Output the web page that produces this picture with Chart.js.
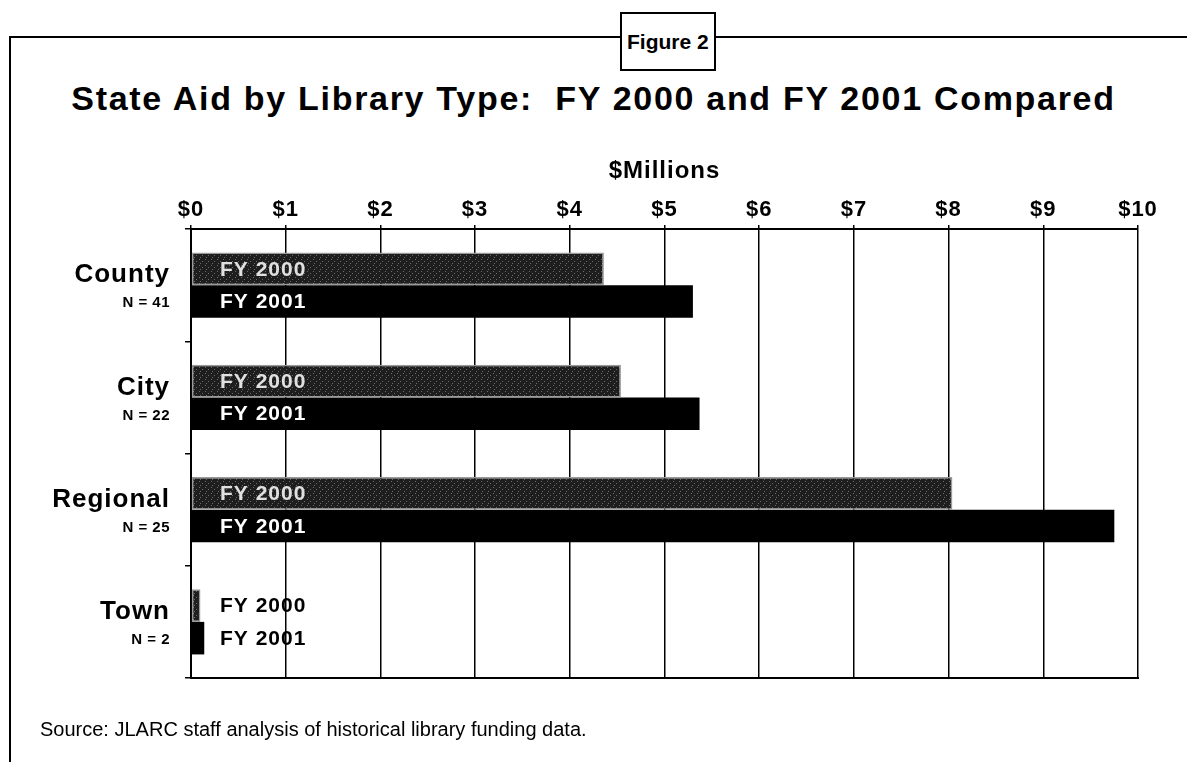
<!DOCTYPE html>
<html>
<head>
<meta charset="utf-8">
<title>State Aid by Library Type</title>
<script src="https://cdn.jsdelivr.net/npm/chart.js@4"></script>
<style>
  body { margin: 0; background: #fff; font-family: Arial, "Liberation Sans", sans-serif; }
  #page { position: relative; width: 1187px; height: 762px; overflow: hidden; }
  .frame-left { position: absolute; left: 9px; top: 36px; width: 2px; height: 726px; background: #000; }
  .frame-top { position: absolute; left: 9px; top: 36px; width: 1178px; height: 2px; background: #000; }
  .fig-box { position: absolute; left: 620px; top: 12px; height: 55px; padding: 0 5px; border: 2px solid #000;
             font-weight: bold; font-size: 21px; line-height: 55px; background: #fff; white-space: nowrap; }
  .title { position: absolute; left: 0; width: 1187px; top: 79px; text-align: center; font-weight: bold;
           font-size: 34px; letter-spacing: 1.7px; white-space: nowrap; }
  .source { position: absolute; left: 40px; top: 718px; font-size: 20px; white-space: nowrap; }
  #wrap { position: absolute; left: 0; top: 0; width: 1187px; height: 762px; }
</style>
</head>
<body>
<div id="page">
  <div class="frame-left"></div>
  <div class="frame-top"></div>
  <div class="fig-box">Figure 2</div>
  <div class="title">State Aid by Library Type:&nbsp; FY 2000 and FY 2001 Compared</div>
  <div id="wrap"><canvas id="chart"></canvas></div>
  <div class="source">Source: JLARC staff analysis of historical library funding data.</div>
</div>
<script>
// values, $ millions
const categories = ['County', 'City', 'Regional', 'Town'];
const counts = ['N = 41', 'N = 22', 'N = 25', 'N = 2'];
const fy2000 = [4.36, 4.54, 8.04, 0.10];
const fy2001 = [5.30, 5.37, 9.75, 0.14];
const seriesNames = ['FY 2000', 'FY 2001'];

const FONT = 'Arial, "Liberation Sans", sans-serif';
Chart.defaults.font.family = FONT;
Chart.defaults.color = '#000';

// speckled dark fill for FY 2000 (fixed dot layout)
function makePattern() {
    const c = document.createElement('canvas');
    c.width = 6; c.height = 6;
    const g = c.getContext('2d');
    g.fillStyle = '#1e1e1e';
    g.fillRect(0, 0, 6, 6);
    g.fillStyle = '#6a6a6a';
    g.fillRect(1, 1, 1, 1);
    g.fillRect(4, 3, 1, 1);
    g.fillRect(2, 5, 1, 1);
    return g.createPattern(c, 'repeat');
}

// the scanned lettering is wider than Arial, open it up a little
const spacing = {
    id: 'spacing',
    beforeDraw(chart) { chart.ctx.letterSpacing = '1px'; }
};

// category names + N counts to the left of the axis
const categoryLabels = {
    id: 'categoryLabels',
    afterDraw(chart) {
        const ctx = chart.ctx;
        const y = chart.scales.y;
        ctx.save();
        ctx.fillStyle = '#000';
        ctx.textAlign = 'right';
        ctx.textBaseline = 'middle';
        categories.forEach((name, i) => {
            const cy = y.getPixelForValue(i);
            ctx.letterSpacing = '1px';
            ctx.font = 'bold 26px ' + FONT;
            ctx.fillText(name, 170, cy - 10);
            ctx.letterSpacing = '0.5px';
            ctx.font = 'bold 15px ' + FONT;
            ctx.fillText(counts[i], 170, cy + 18);
        });
        ctx.restore();
    }
};

// "FY 2000" / "FY 2001" written into each bar
const barLabels = {
    id: 'barLabels',
    afterDatasetsDraw(chart) {
        const ctx = chart.ctx;
        const x0 = chart.chartArea.left + 29;
        ctx.save();
        ctx.letterSpacing = '1px';
        ctx.font = 'bold 21px ' + FONT;
        ctx.textAlign = 'left';
        ctx.textBaseline = 'middle';
        chart.data.datasets.forEach((ds, di) => {
            chart.getDatasetMeta(di).data.forEach(bar => {
                const w = ctx.measureText(ds.label).width;
                ctx.fillStyle = bar.x > x0 + w ? (di === 0 ? '#e0e0e0' : '#fff') : '#000';
                ctx.fillText(ds.label, x0, bar.y + 1);
            });
        });
        ctx.restore();
    }
};

new Chart(document.getElementById('chart'), {
    type: 'bar',
    data: {
        labels: categories,
        datasets: [
            {
                label: seriesNames[0],
                data: fy2000,
                backgroundColor: makePattern(),
                borderColor: '#9a9a9a',
                borderWidth: 1.5,
                borderSkipped: false
            },
            {
                label: seriesNames[1],
                data: fy2001,
                backgroundColor: '#000',
                borderColor: '#000',
                borderWidth: 0
            }
        ]
    },
    options: {
        indexAxis: 'y',
        responsive: true,
        maintainAspectRatio: false,
        animation: false,
        categoryPercentage: 0.58,
        barPercentage: 1.0,
        layout: { padding: { top: 145, right: 49, bottom: 84, left: 0 } },
        plugins: {
            legend: { display: false },
            tooltip: { enabled: false }
        },
        scales: {
            x: {
                position: 'top',
                min: 0,
                max: 10,
                ticks: {
                    stepSize: 1,
                    padding: 2,
                    font: { size: 22, weight: 'bold' },
                    callback: v => '$' + v
                },
                title: {
                    display: true,
                    text: '$Millions',
                    font: { size: 24, weight: 'bold' },
                    padding: { top: 12, bottom: 0 }
                },
                grid: { color: '#000', lineWidth: 1.5, tickLength: 4 },
                border: { color: '#000', width: 2 },
                afterFit: s => { s.height = 84; }
            },
            x2: {
                position: 'bottom',
                min: 0,
                max: 10,
                ticks: { display: false },
                grid: { drawOnChartArea: false, drawTicks: false },
                border: { color: '#000', width: 2 },
                afterFit: s => { s.height = 0; }
            },
            y: {
                ticks: { display: false },
                grid: { drawOnChartArea: false, color: '#000', lineWidth: 1.5, tickLength: 6 },
                border: { color: '#000', width: 2 },
                afterFit: s => { s.width = 191; }
            }
        }
    },
    plugins: [spacing, categoryLabels, barLabels]
});
</script>
</body>
</html>
